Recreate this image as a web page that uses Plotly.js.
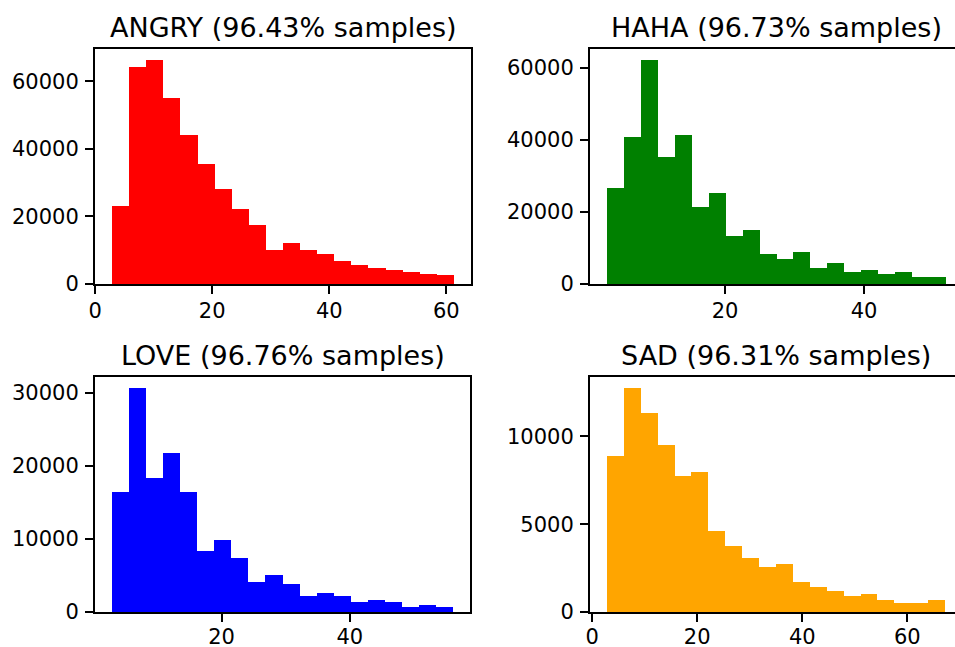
<!DOCTYPE html>
<html>
<head>
<meta charset="utf-8">
<script src="https://cdn.plot.ly/plotly-3.0.1.min.js"></script>
<style>
  html, body { margin: 0; padding: 0; overflow: hidden; background: #fff; }
  #chart { width: 965px; height: 647px; }
</style>
</head>
<body>
<div id="chart"></div>
<script>
// ---- Data (histogram bin ranges and counts, 20 bins each) ----
const panelTitles = ["ANGRY (96.43% samples)", "HAHA (96.73% samples)", "LOVE (96.76% samples)", "SAD (96.31% samples)"];
const panelColors = ["#ff0000", "#008000", "#0000ff", "#ffa500"];

const angryBinRange = [2.9, 61.3];
const angryCounts = [23000, 64200, 66200, 54900, 44200, 35500, 28200, 22100, 17500, 10200,
                     12200, 10100, 8850, 6900, 5500, 4800, 4200, 3550, 2850, 2750];

const hahaBinRange = [3.0, 51.8];
const hahaCounts = [26500, 40800, 62100, 35300, 41400, 21500, 25200, 13200, 15100, 8300,
                    7000, 8950, 4500, 5800, 3300, 3950, 2650, 3300, 1950, 1950];

const loveBinRange = [2.9, 56.1];
const loveCounts = [16400, 30600, 18300, 21700, 16400, 8400, 9900, 7450, 4150, 5000,
                    3800, 2250, 2550, 2250, 1300, 1650, 1300, 700, 1000, 700];

const sadBinRange = [2.8, 67.2];
const sadCounts = [8860, 12750, 11330, 9530, 7720, 7990, 4630, 3740, 3090, 2560,
                   2710, 1690, 1420, 1180, 910, 1040, 660, 510, 510, 660];

const xTickVals = [0, 20, 40, 60];
const yTickVals = [
  [0, 20000, 40000, 60000],
  [0, 20000, 40000, 60000],
  [0, 10000, 20000, 30000],
  [0, 5000, 10000]
];

// ---- Build ----
const ranges = [angryBinRange, hahaBinRange, loveBinRange, sadBinRange];
const counts = [angryCounts, hahaCounts, loveCounts, sadCounts];

const W = 965, H = 647;
// pixel boxes [left, right, top, bottom]
const boxes = [
  [95, 471, 49, 284],
  [590, 963, 49, 284],
  [95, 470, 377, 612],
  [590, 962, 377, 612]
];
const xStandoff = [-1, -1, -3, -3];

const traces = [];
const layout = {
  width: W, height: H,
  margin: {l: 0, r: 0, t: 0, b: 0},
  paper_bgcolor: "#fff",
  plot_bgcolor: "#fff",
  showlegend: false,
  bargap: 0,
  font: {family: "DejaVu Sans", size: 21, color: "#000"},
  annotations: []
};

for (let i = 0; i < 4; i++) {
  const [a, b] = ranges[i];
  const n = counts[i].length;
  const w = (b - a) / n;
  const lefts = counts[i].map((_, k) => a + k * w);
  const sx = i === 0 ? "" : String(i + 1);
  traces.push({
    type: "bar",
    x: lefts,
    y: counts[i],
    width: Array(n).fill(w),
    offset: 0,
    marker: {color: panelColors[i], line: {width: 0}},
    xaxis: "x" + sx,
    yaxis: "y" + sx,
    hoverinfo: "x+y"
  });
  const span = b - a;
  const ymax = Math.max(...counts[i]) * 1.05;
  const [L, R, T, B] = boxes[i];
  const axCommon = {
    showgrid: false, zeroline: false,
    showline: true, linecolor: "#000", linewidth: 2, mirror: true,
    ticks: "outside", ticklen: 8, tickwidth: 2, tickcolor: "#000",
    tickfont: {family: "DejaVu Sans", size: 21, color: "#000"},
    fixedrange: true
  };
  layout["xaxis" + sx] = Object.assign({}, axCommon, {
    domain: [L / W, R / W],
    range: [a - 0.05 * span, b + 0.05 * span],
    tickmode: "array", tickvals: xTickVals,
    anchor: "y" + sx,
    ticklabelstandoff: xStandoff[i]
  });
  layout["yaxis" + sx] = Object.assign({}, axCommon, {
    domain: [1 - B / H, 1 - T / H],
    range: [0, ymax],
    tickmode: "array", tickvals: yTickVals[i],
    tickformat: "d",
    anchor: "x" + sx,
    ticklabelstandoff: 2
  });
  layout.annotations.push({
    text: panelTitles[i],
    xref: "paper", yref: "paper",
    x: ((L + R) / 2) / W, y: 1 - T / H,
    xanchor: "center", yanchor: "bottom",
    yshift: 4,
    showarrow: false,
    font: {family: "DejaVu Sans", size: 27, color: "#000"}
  });
}

Plotly.newPlot("chart", traces, layout, {displayModeBar: false, staticPlot: true});
</script>
</body>
</html>
